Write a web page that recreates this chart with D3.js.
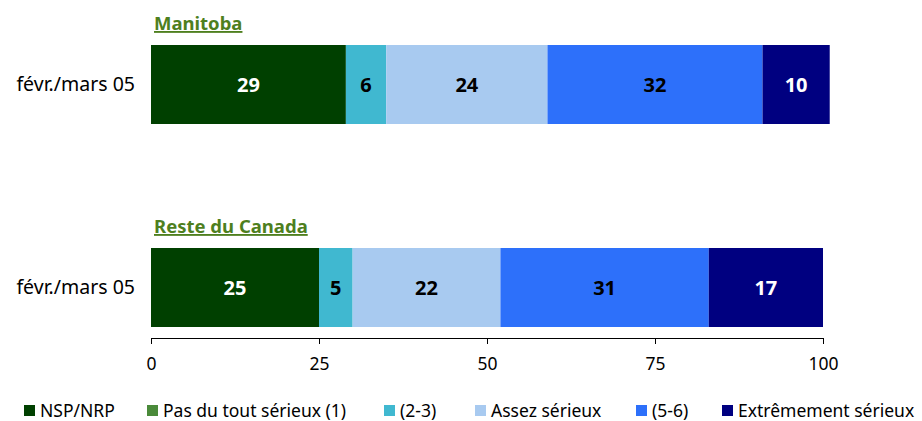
<!DOCTYPE html>
<html>
<head>
<meta charset="utf-8">
<script src="https://d3js.org/d3.v7.min.js"></script>
<style>
  body { margin: 0; background: #fff; }
  svg { font-family: "Noto Sans", sans-serif; }
</style>
</head>
<body>
<svg></svg>
<script>
var svgWidth = 922, svgHeight = 421;

var groups = ['Manitoba', 'Reste du Canada'];
var period = 'févr./mars 05';
var categories = ['NSP/NRP', 'Pas du tout sérieux (1)', '(2-3)', 'Assez sérieux', '(5-6)', 'Extrêmement sérieux'];
var colors = ['#004000', '#4a8a3a', '#40b8d0', '#a8caf0', '#2d70fa', '#000080'];
var labelColors = ['#fff', '#fff', '#000', '#000', '#000', '#fff'];
var manitoba = [29, 0, 6, 24, 32, 10];
var resteCanada = [25, 0, 5, 22, 31, 17];
var xTicks = [0, 25, 50, 75, 100];

var series = [manitoba, resteCanada];

var svg = d3.select('svg')
    .attr('width', svgWidth)
    .attr('height', svgHeight);

var x = d3.scaleLinear()
    .domain([0, 100])
    .range([151, 823]);

// bar tops for each group
var barTop = d3.scaleOrdinal()
    .domain(groups)
    .range([45, 248]);
var barH = 79;

var rows = svg.selectAll('g.row')
    .data(groups)
    .enter()
    .append('g')
    .attr('class', 'row');

rows.append('text')
    .attr('x', 154)
    .attr('y', function (d) { return barTop(d) - 15; })
    .attr('fill', '#4e7f1e')
    .attr('font-size', 18.5)
    .attr('font-weight', 'bold')
    .attr('text-decoration', 'underline')
    .text(function (d) { return d; });

rows.append('text')
    .attr('x', 135)
    .attr('y', function (d) { return barTop(d) + barH / 2; })
    .attr('dy', '0.35em')
    .attr('text-anchor', 'end')
    .attr('font-size', 19.5)
    .attr('fill', '#000')
    .text(period);

rows.each(function (g, gi) {
    var vals = series[gi];
    var start = 0;
    var segs = vals.map(function (v, i) {
        var s = { v: v, i: i, x0: start };
        start += v;
        return s;
    }).filter(function (s) { return s.v > 0; });

    var sel = d3.select(this).selectAll('g.seg')
        .data(segs)
        .enter()
        .append('g')
        .attr('class', 'seg');

    sel.append('rect')
        .attr('x', function (d) { return x(d.x0); })
        .attr('y', barTop(g))
        .attr('width', function (d) { return x(d.x0 + d.v) - x(d.x0); })
        .attr('height', barH)
        .attr('fill', function (d) { return colors[d.i]; });

    sel.append('text')
        .attr('x', function (d) { return x(d.x0 + d.v / 2); })
        .attr('y', barTop(g) + barH / 2)
        .attr('dy', '0.35em')
        .attr('text-anchor', 'middle')
        .attr('font-size', 20)
        .attr('font-weight', 'bold')
        .attr('fill', function (d) { return labelColors[d.i]; })
        .text(function (d) { return d.v; });
});

var xAxis = d3.axisBottom(x)
    .tickValues(xTicks)
    .tickSize(6)
    .tickSizeOuter(0);

var axisG = svg.append('g')
    .attr('transform', 'translate(0,338)')
    .call(xAxis);
axisG.select('.domain').attr('stroke', '#000');
axisG.selectAll('.tick line').attr('stroke', '#000');
axisG.selectAll('.tick text')
    .attr('font-family', '"Noto Sans", sans-serif')
    .attr('font-size', 17.5)
    .attr('fill', '#000')
    .attr('y', 20);

// legend
var legendX = [24, 147, 384, 475, 636, 722];
var legend = svg.selectAll('g.legend')
    .data(categories)
    .enter()
    .append('g')
    .attr('class', 'legend')
    .attr('transform', function (d, i) { return 'translate(' + legendX[i] + ',405)'; });

legend.append('rect')
    .attr('width', 11)
    .attr('height', 11)
    .attr('fill', function (d, i) { return colors[i]; });

legend.append('text')
    .attr('x', 16)
    .attr('y', 6)
    .attr('dy', '0.35em')
    .attr('font-size', 17.5)
    .attr('fill', '#000')
    .text(function (d) { return d; });
</script>
</body>
</html>
